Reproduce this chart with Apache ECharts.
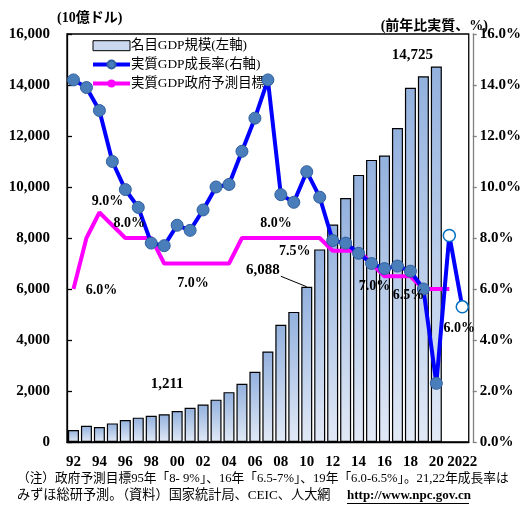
<!DOCTYPE html>
<html><head><meta charset="utf-8">
<script src="https://cdn.jsdelivr.net/npm/echarts@6/dist/echarts.min.js"></script>
<style>html,body{margin:0;padding:0;background:#fff}#c{width:524px;height:507px}</style>
</head><body><div id="c"></div>
<script>
// ---- data ----
const years = ['1992','1993','1994','1995','1996','1997','1998','1999','2000','2001','2002','2003','2004','2005','2006','2007','2008','2009','2010','2011','2012','2013','2014','2015','2016','2017','2018','2019','2020','2021','2022'];
const gdpNominal = [470,640,590,730,860,955,1030,1090,1211,1339,1471,1660,1955,2286,2752,3550,4594,5102,6088,7552,8532,9570,10475,11062,11233,12310,13894,14340,14725,null,null];
const growthReal = [14.2,13.9,13.0,11.0,9.9,9.2,7.8,7.7,8.5,8.3,9.1,10.0,10.1,11.4,12.7,14.2,9.7,9.4,10.6,9.6,7.9,7.8,7.4,7.0,6.8,6.9,6.7,6.0,2.3,8.1,5.3];
const govTarget = [6.0,8.0,9.0,8.5,8.0,8.0,8.0,7.0,7.0,7.0,7.0,7.0,7.0,8.0,8.0,8.0,8.0,8.0,8.0,8.0,7.5,7.5,7.5,7.0,6.5,6.5,6.5,6.0,6.0,6.0,null];
const forecastYears = ['2021','2022'];
const gdpLabelYears = ['2000','2010','2020'];
const leftTicks = [0,2000,4000,6000,8000,10000,12000,14000,16000];
const rightTicks = [0,2,4,6,8,10,12,14,16];
const seriesNames = ['名目GDP規模(左軸)','実質GDP成長率(右軸)','実質GDP政府予測目標'];
const unitLeft = '(10億ドル)';
const unitRight = '(前年比実質、%)';
const note1 = '（注）政府予測目標95年「8- 9%」、16年「6.5-7%」、19年「6.0-6.5%」。21,22年成長率は';
const note2a = 'みずほ総研予測。（資料）国家統計局、CEIC、人大網';
const note2b = 'http://www.npc.gov.cn';

// target labels: [year, year whose target value is used]
const targetLabels = [
  {year:'1992', ref:'1992', off:[28,1]},
  {year:'1994', ref:'1994', off:[8,-11]},
  {year:'1996', ref:'1996', off:[4,-15]},
  {year:'2001', ref:'2001', off:[3,20]},
  {year:'2007', ref:'2007', off:[8,-15]},
  {year:'2009', ref:'2012', off:[1,1]},
  {year:'2015', ref:'2015', off:[3,23]},
  {year:'2017', ref:'2017', off:[11,19]},
  {year:'2022', ref:'2021', off:[-3,39]}
];

const SERIF = "'Liberation Serif','Times New Roman',serif";
const MIX = "'Liberation Serif','Noto Sans CJK JP',sans-serif";
const idx = y => years.indexOf(y);
const fmtPct = v => v.toFixed(1) + '%';

const barGrad = new echarts.graphic.LinearGradient(0,0,0,1,[
  {offset:0,color:'#93B1DE'},{offset:1,color:'#E1E9F6'}]);

const growthData = growthReal.map((v,i)=> forecastYears.includes(years[i]) ?
  {value:v, itemStyle:{color:'#fff', borderColor:'#0070C0', borderWidth:1.5}} : v);

const gdpLabelOffsets = {'2000':[-10,-27],'2010':[-18,-17],'2020':[-24,-11]};
const gdpLabelAnchor = {'2000':'2000','2010':'2008','2020':'2020'};

const chart = echarts.init(document.getElementById('c'), null, {renderer:'canvas'});
chart.setOption({
  backgroundColor:'#fff',
  animation:false,
  grid:{left:67, right:49, top:34, bottom:65, show:true, borderColor:'#000', borderWidth:1.3, backgroundColor:'transparent'},
  legend:{
    left:86, top:34, orient:'vertical', itemWidth:37, itemHeight:10, itemGap:5.5,
    textStyle:{fontSize:13.4, fontFamily:MIX, color:'#000', padding:[0,0,0,-4]},
    data:[
      {name:seriesNames[0], icon:'rect', itemStyle:{color:'#C9D8EE', borderColor:'#000', borderWidth:1}},
      {name:seriesNames[1], lineStyle:{width:4, color:'#0000FF'}, itemStyle:{color:'#4A7EBB', borderColor:'#2F5F9E'}},
      {name:seriesNames[2], lineStyle:{width:4, color:'#FF00FF'}}
    ]
  },
  xAxis:{
    type:'category', data:years, boundaryGap:true,
    axisLine:{show:true, lineStyle:{color:'#000', width:1.3}},
    axisTick:{show:false},
    axisLabel:{interval:1, margin:13, fontSize:15, fontWeight:'bold', fontFamily:SERIF, color:'#000',
      formatter:(v,i)=> v==='2022' ? v : v.slice(2)},
    splitLine:{show:false}
  },
  yAxis:[
    {type:'value', min:leftTicks[0], max:leftTicks[leftTicks.length-1], interval:leftTicks[1]-leftTicks[0],
     axisLine:{show:true, lineStyle:{color:'#000', width:1.3}},
     axisTick:{show:true, inside:true, length:5, lineStyle:{color:'#000', width:1.3}},
     axisLabel:{margin:17, fontSize:15, fontWeight:'bold', fontFamily:SERIF, color:'#000',
       formatter:v=>v.toLocaleString('en-US')},
     splitLine:{show:false}},
    {type:'value', min:rightTicks[0], max:rightTicks[rightTicks.length-1], interval:rightTicks[1]-rightTicks[0],
     position:'right', offset:4,
     axisLine:{show:true, lineStyle:{color:'#808080', width:1.3}},
     axisTick:{show:true, inside:false, length:4, lineStyle:{color:'#808080', width:1.3}},
     axisLabel:{margin:7, fontSize:15, fontWeight:'bold', fontFamily:SERIF, color:'#000', formatter:fmtPct},
     splitLine:{show:false}}
  ],
  series:[
    {name:seriesNames[0], type:'bar', data:gdpNominal, barWidth:11, z:2,
     itemStyle:{color:barGrad, borderColor:'#000', borderWidth:1.2},
     markPoint:{symbol:'circle', symbolSize:0, silent:true,
       label:{show:true, position:'inside', fontSize:15, fontWeight:'bold', fontFamily:SERIF, color:'#000'},
       data:gdpLabelYears.map(y=>({coord:[gdpLabelAnchor[y], gdpNominal[idx(y)]], value:gdpNominal[idx(y)],
         label:{formatter:gdpNominal[idx(y)].toLocaleString('en-US'), offset:gdpLabelOffsets[y]}}))
     },
     markLine:{silent:true, symbol:['none','none'], label:{show:false},
       lineStyle:{color:'#000', width:1, type:'solid'},
       data:[[{coord:['2008',6500]},{coord:['2010',gdpNominal[idx('2010')]]}]]}
    },
    {name:seriesNames[2], type:'line', yAxisIndex:1, data:govTarget, z:3,
     symbol:'none', lineStyle:{color:'#FF00FF', width:4}, itemStyle:{color:'#FF00FF'},
     markPoint:{symbol:'circle', symbolSize:0, silent:true,
       label:{show:true, position:'inside', fontSize:14, fontWeight:'bold', fontFamily:SERIF, color:'#000'},
       data:targetLabels.map(t=>({coord:[t.year, govTarget[idx(t.ref)]], value:govTarget[idx(t.ref)],
         label:{formatter:fmtPct(govTarget[idx(t.ref)]), offset:t.off}}))}
    },
    {name:seriesNames[1], type:'line', yAxisIndex:1, data:growthData, z:4,
     symbol:'circle', symbolSize:12, showAllSymbol:true,
     lineStyle:{color:'#0000FF', width:4},
     itemStyle:{color:'#4A7EBB', borderColor:'#2F5F9E', borderWidth:1}}
  ],
  graphic:[
    {type:'text', left:57, top:11, style:{text:unitLeft, fontSize:14, fontWeight:'bold', fontFamily:MIX, fill:'#000'}},
    {type:'text', right:36, top:19, style:{text:unitRight, fontSize:14, fontWeight:'bold', fontFamily:MIX, fill:'#000'}},
    {type:'text', left:17, top:472, style:{text:note1, fontSize:12.7, fontFamily:MIX, fill:'#000'}},
    {type:'text', left:17, top:489, style:{text:note2a, fontSize:13.2, fontFamily:MIX, fill:'#000'}},
    {type:'text', left:347, top:489, style:{text:note2b, fontSize:13, fontWeight:'bold', fontFamily:SERIF, fill:'#000'}},
    {type:'line', shape:{x1:347, y1:503.5, x2:469, y2:503.5}, style:{stroke:'#000', lineWidth:1}}
  ]
});
</script></body></html>
